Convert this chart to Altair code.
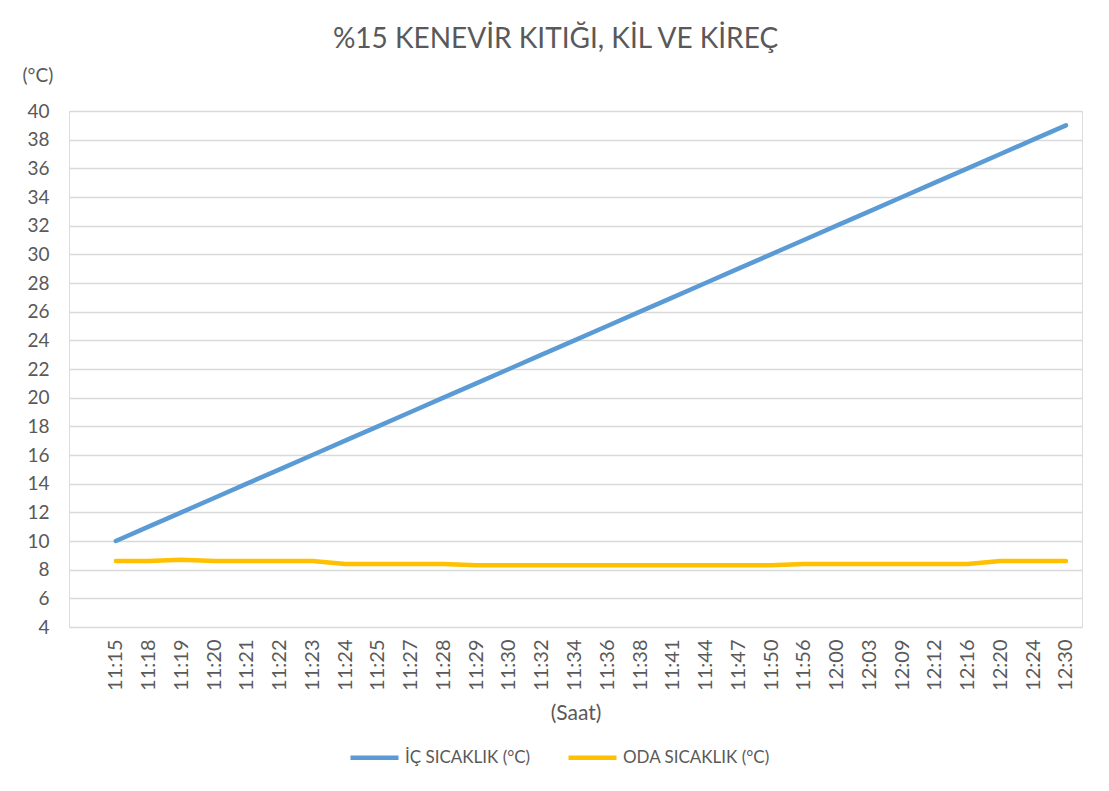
import altair as alt
import pandas as pd

times = ["11:15", "11:18", "11:19", "11:20", "11:21", "11:22", "11:23", "11:24", "11:25", "11:27",
         "11:28", "11:29", "11:30", "11:32", "11:34", "11:36", "11:38", "11:41", "11:44", "11:47",
         "11:50", "11:56", "12:00", "12:03", "12:09", "12:12", "12:16", "12:20", "12:24", "12:30"]
ic_sicaklik = [10, 11, 12, 13, 14, 15, 16, 17, 18, 19,
               20, 21, 22, 23, 24, 25, 26, 27, 28, 29,
               30, 31, 32, 33, 34, 35, 36, 37, 38, 39]
oda_sicaklik = [8.6, 8.6, 8.7, 8.6, 8.6, 8.6, 8.6, 8.4, 8.4, 8.4,
                8.4, 8.3, 8.3, 8.3, 8.3, 8.3, 8.3, 8.3, 8.3, 8.3,
                8.3, 8.4, 8.4, 8.4, 8.4, 8.4, 8.4, 8.6, 8.6, 8.6]
series_names = ["İÇ SICAKLIK (°C)", "ODA SICAKLIK (°C)"]
colors = ["#5B9BD5", "#FFC000"]

rows = []
for i, t in enumerate(times):
    rows.append({"idx": i, "saat": t, "seri": series_names[0], "deger": ic_sicaklik[i]})
    rows.append({"idx": i, "saat": t, "seri": series_names[1], "deger": oda_sicaklik[i]})
df = pd.DataFrame(rows)

label_js = "[" + ",".join("'" + t + "'" for t in times) + "]"

FONT = "Lato"
TXT = "#595959"

chart = alt.Chart(df).mark_line(strokeWidth=4.5, strokeCap="round", strokeJoin="round").encode(
    x=alt.X("idx:Q",
            scale=alt.Scale(domain=[-1.43, 29.49], nice=False, zero=False),
            axis=alt.Axis(values=list(range(len(times))),
                          labelExpr=label_js + "[datum.value]",
                          labelAngle=270, labelAlign="right", labelBaseline="middle",
                          labelPadding=12, labelFontSize=20, labelColor=TXT, labelFont=FONT,
                          ticks=False, domain=False, grid=False,
                          title="(Saat)", titleFont=FONT, titleFontSize=21, titleColor=TXT,
                          titleFontWeight="normal", titleY=86, titleBaseline="middle")),
    y=alt.Y("deger:Q",
            scale=alt.Scale(domain=[4, 40], nice=False, zero=False),
            axis=alt.Axis(values=list(range(4, 41, 2)), labelFontSize=19, labelColor=TXT,
                          labelFont=FONT, labelPadding=20, ticks=False, domain=False,
                          gridColor="#D9D9D9", gridWidth=1.5,
                          title="(°C)", titleAngle=0, titleAlign="left", titleBaseline="middle",
                          titleX=-47, titleY=-36, titleFont=FONT, titleFontSize=19,
                          titleColor=TXT, titleFontWeight="normal")),
    color=alt.Color("seri:N",
                    scale=alt.Scale(domain=series_names, range=colors),
                    legend=alt.Legend(orient="none", legendX=279, legendY=620, direction="horizontal",
                                      title=None, symbolType="stroke", symbolSize=2304,
                                      symbolStrokeWidth=4.5, labelFont=FONT, labelFontSize=17,
                                      labelColor=TXT, labelOffset=4, columnPadding=28)),
    order="idx:Q",
).properties(
    width=1013,
    height=516,
    title=alt.TitleParams("%15 KENEVİR KITIĞI, KİL VE KİREÇ", font=FONT, fontSize=28,
                          fontWeight="normal", color=TXT, anchor="middle", dx=-20, offset=12),
    autosize=alt.AutoSizeParams(type="none"),
    padding={"left": 61, "top": 103, "right": 19, "bottom": 172},
).configure_view(stroke=None).configure(background="white")

chart.save("out.html", embed_options={"renderer": "svg", "actions": False})
